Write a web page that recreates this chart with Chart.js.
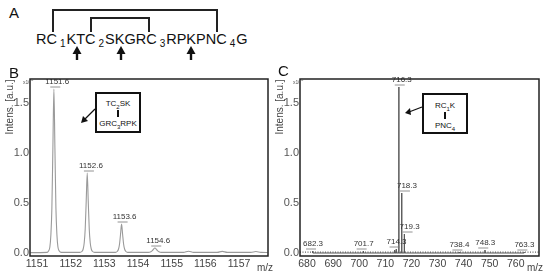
<!DOCTYPE html>
<html>
<head>
<meta charset="utf-8">
<script src="https://cdn.jsdelivr.net/npm/chart.js@4.4.1/dist/chart.umd.min.js"></script>
<style>
  body { margin: 0; background: #fff; font-family: "Liberation Sans", Arial, sans-serif; }
  #wrap { position: relative; width: 550px; height: 278px; overflow: hidden; }
  .abs { position: absolute; }
  .letter { font-size: 15px; color: #111; line-height: 15px; }
  .seq { left: 36px; top: 32px; font-size: 14.5px; color: #111; white-space: nowrap; line-height: 14px; }
  .seq sub { font-size: 10px; vertical-align: -3px; padding: 0 1px 0 3px; line-height: 0; }
  .box { border: 2px solid #111; background: #fff; font-size: 8px; color: #111; text-align: center; box-sizing: border-box; }
  .box sub { font-size: 6px; line-height: 0; }
  .box .bar { width: 2px; height: 7px; background: #111; margin: 2px auto 2px; }
  .ylab { font-size: 10px; color: #444; white-space: nowrap; transform: translate(-50%, -50%) rotate(-90deg); }
  .mz { font-size: 10px; color: #444; }
  .exp { font-size: 5px; color: #555; }
  canvas { position: absolute; top: 0; }
</style>
</head>
<body>
<div id="wrap">
  <div class="abs letter" style="left:9px;top:5px;">A</div>
  <div class="abs seq">RC<sub>1</sub>KTC<sub>2</sub>SKGRC<sub>3</sub>RPKPNC<sub>4</sub>G</div>
  <svg class="abs" style="left:0;top:0" width="275" height="70">
    <polyline points="53,32 53,10 217,10 217,32" fill="none" stroke="#222" stroke-width="2"/>
    <polyline points="91,32 91,18 149,18 149,32" fill="none" stroke="#222" stroke-width="2"/>
    <g stroke="#111" stroke-width="2.4" fill="#111">
      <line x1="77" y1="60" x2="77" y2="51"/><polygon points="72.5,54 77,46 81.5,54" stroke="none"/>
      <line x1="121" y1="60" x2="121" y2="51"/><polygon points="116.5,54 121,46 125.5,54" stroke="none"/>
      <line x1="191" y1="60" x2="191" y2="51"/><polygon points="186.5,54 191,46 195.5,54" stroke="none"/>
    </g>
  </svg>

  <canvas id="chartB" width="270" height="278" style="left:0"></canvas>
  <canvas id="chartC" width="280" height="278" style="left:270px"></canvas>

  <div class="abs letter" style="left:9px;top:65px;">B</div>
  <div class="abs letter" style="left:278px;top:63px;">C</div>

  <div class="abs ylab" style="left:9px;top:107px;">Intens. [a.u.]</div>
  <div class="abs ylab" style="left:279px;top:107px;">Intens. [a.u.]</div>
  <div class="abs exp" style="left:23px;top:77px;">x10<sup>6</sup></div>
  <div class="abs exp" style="left:293px;top:77px;">x10<sup>6</sup></div>
  <div class="abs mz" style="left:257px;top:262px;">m/z</div>
  <div class="abs mz" style="left:527px;top:262px;">m/z</div>

  <div class="abs box" style="left:95px;top:92px;width:46px;height:41px;padding-top:5px;">
    TC<sub>2</sub>SK<div class="bar"></div>GRC<sub>3</sub>RPK
  </div>
  <div class="abs box" style="left:422px;top:93px;width:46px;height:41px;padding-top:6px;">
    RC<sub>1</sub>K<div class="bar"></div>PNC<sub>4</sub>
  </div>
  <svg class="abs" style="left:0;top:0" width="550" height="278">
    <g stroke="#111" stroke-width="1.3" fill="#111">
      <line x1="95" y1="109" x2="84" y2="120"/><polygon points="81,123 83,116 88,121" stroke="none"/>
      <line x1="422" y1="107" x2="409" y2="112"/><polygon points="405,113 410,108 411,115" stroke="none"/>
    </g>
  </svg>
</div>

<script>
// y axis shared by both spectra (x10^6 a.u.)
const yTicks = [0, 0.5, 1.0, 1.5];

// panel B: profile spectrum of TC2SK-GRC3RPK
const xTicksB = [1151, 1152, 1153, 1154, 1155, 1156, 1157];
const mzB = [
  1150.80, 1151.30, 1151.34, 1151.38, 1151.41, 1151.44, 1151.47, 1151.50, 1151.53, 1151.56, 1151.59, 1151.62, 1151.66, 1151.72,
  1152.27, 1152.33, 1152.37, 1152.40, 1152.43, 1152.46, 1152.49, 1152.52, 1152.55, 1152.58, 1152.61, 1152.65, 1152.71,
  1153.33, 1153.38, 1153.42, 1153.45, 1153.48, 1153.51, 1153.54, 1153.57, 1153.60, 1153.64, 1153.69,
  1154.30, 1154.38, 1154.44, 1154.50, 1154.56, 1154.62, 1154.70,
  1155.35, 1155.50, 1155.65,
  1156.35, 1156.50, 1156.65,
  1157.35, 1157.50, 1157.65, 1157.85
];
const intensB = [
  0.004, 0.006, 0.02, 0.06, 0.18, 0.45, 1.05, 1.64, 1.05, 0.45, 0.18, 0.06, 0.02, 0.006,
  0.006, 0.015, 0.04, 0.10, 0.24, 0.52, 0.80, 0.52, 0.24, 0.10, 0.04, 0.015, 0.006,
  0.006, 0.015, 0.04, 0.09, 0.19, 0.29, 0.19, 0.09, 0.04, 0.015, 0.006,
  0.006, 0.012, 0.03, 0.05, 0.03, 0.012, 0.006,
  0.006, 0.018, 0.006,
  0.006, 0.016, 0.006,
  0.006, 0.015, 0.006, 0.005
];
const labelsB = ['1151.6', '1152.6', '1153.6', '1154.6'];
const labelTopsB = [1.64, 0.80, 0.29, 0.05];

// panel C: centroid peaks of RC1K-PNC4
const xTicksC = [680, 690, 700, 710, 720, 730, 740, 750, 760];
const mzC = [682.2, 701.6, 713.6, 714.2, 715.2, 716.3, 717.3, 738.3, 748.2, 763.2];
const intensC = [0.02, 0.02, 0.03, 0.04, 1.66, 0.60, 0.19, 0.01, 0.03, 0.01];
const labelsC = ['682.3', '701.7', '714.3', '716.3', '718.3', '719.3', '738.4', '748.3', '763.3'];
const labelTopsC = [0.02, 0.02, 0.04, 1.66, 0.60, 0.19, 0.01, 0.03, 0.01];
const noiseLevelC = 0.008;

const FONT = '"Liberation Sans", Arial, sans-serif';

const frame = {
  id: 'frame',
  afterDraw(chart) {
    const { ctx, chartArea: a } = chart;
    ctx.save();
    ctx.strokeStyle = '#222';
    ctx.lineWidth = 1.5;
    ctx.strokeRect(a.left, a.top, a.right - a.left, a.bottom - a.top);
    ctx.restore();
  }
};

const peakLabels = {
  id: 'peakLabels',
  afterDatasetsDraw(chart, args, opts) {
    const { ctx, scales: { x, y } } = chart;
    ctx.save();
    ctx.font = '8px ' + FONT;
    ctx.fillStyle = '#333';
    ctx.strokeStyle = '#777';
    ctx.lineWidth = 0.8;
    ctx.textAlign = 'center';
    ctx.textBaseline = 'bottom';
    opts.labels.forEach((t, i) => {
      const px = x.getPixelForValue(parseFloat(t));
      const py = y.getPixelForValue(opts.tops[i]) - 2;
      ctx.fillText(t, px, py - 1);
      ctx.beginPath();
      ctx.moveTo(px - 7, py);
      ctx.lineTo(px + 3, py);
      ctx.stroke();
    });
    ctx.restore();
  }
};

function makeOptions(xMin, xMax, xTicks, padRight, labels, tops) {
  return {
    responsive: false,
    animation: false,
    devicePixelRatio: 1,
    layout: { padding: { top: 79, right: padRight, bottom: 0, left: 0 } },
    plugins: {
      legend: { display: false },
      tooltip: { enabled: false },
      peakLabels: { labels: labels, tops: tops }
    },
    scales: {
      x: {
        type: 'linear',
        min: xMin,
        max: xMax,
        afterBuildTicks: s => { s.ticks = xTicks.map(v => ({ value: v })); },
        afterFit: s => { s.height = 22; },
        grid: { display: false, drawTicks: false },
        border: { display: false },
        ticks: { padding: 2, color: '#444', font: { family: FONT, size: 10.5 }, maxRotation: 0, callback: v => String(v) }
      },
      y: {
        min: -0.03,
        max: 1.74,
        afterBuildTicks: s => { s.ticks = yTicks.map(v => ({ value: v })); },
        afterFit: s => { s.width = 30; },
        grid: { display: false, drawTicks: false },
        border: { display: false },
        ticks: { padding: 1, color: '#555', font: { family: FONT, size: 11 }, callback: v => v.toFixed(1) }
      }
    }
  };
}

new Chart(document.getElementById('chartB'), {
  type: 'line',
  data: {
    datasets: [{
      data: mzB.map((m, i) => ({ x: m, y: intensB[i] })),
      borderColor: '#9a9a9a',
      borderWidth: 1.1,
      pointRadius: 0,
      cubicInterpolationMode: 'monotone',
      fill: false
    }]
  },
  options: makeOptions(1150.79, 1157.86, xTicksB, 2, labelsB, labelTopsB),
  plugins: [frame, peakLabels]
});

const sticks = [];
mzC.forEach((m, i) => {
  sticks.push({ x: m, y: 0 }, { x: m, y: intensC[i] }, { x: m, y: 0 });
});

new Chart(document.getElementById('chartC'), {
  type: 'line',
  data: {
    datasets: [
      {
        data: sticks,
        borderColor: '#555',
        borderWidth: 1,
        pointRadius: 0,
        tension: 0,
        fill: false
      },
      {
        data: [{ x: 677.3, y: noiseLevelC }, { x: 768.9, y: noiseLevelC }],
        borderColor: '#666',
        borderWidth: 1.2,
        borderDash: [1, 1.5],
        pointRadius: 0,
        fill: false
      }
    ]
  },
  options: makeOptions(677.3, 768.9, xTicksC, 11, labelsC, labelTopsC),
  plugins: [frame, peakLabels]
});
</script>
</body>
</html>
